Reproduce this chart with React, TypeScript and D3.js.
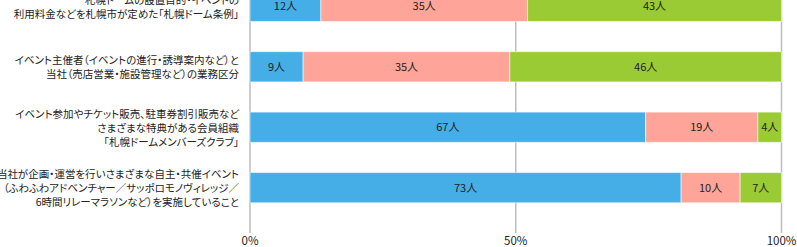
import React from "react";
import * as d3 from "d3";

const categories: string[][] = [
  ["札幌ドームの設置目的・イベントの", "利用料金などを札幌市が定めた「札幌ドーム条例」"],
  ["イベント主催者（イベントの進行・誘導案内など）と", "当社（売店営業・施設管理など）の業務区分"],
  ["イベント参加やチケット販売、駐車券割引販売など", "さまざまな特典がある会員組織", "「札幌ドームメンバーズクラブ」"],
  ["当社が企画・運営を行いさまざまな自主・共催イベント", "（ふわふわアドベンチャー／サッポロモノヴィレッジ／", "6時間リレーマラソンなど）を実施していること"],
];
const seriesA = [12, 9, 67, 73];
const seriesB = [35, 35, 19, 10];
const seriesC = [43, 46, 4, 7];
const tickValues = [0, 0.5, 1];
const tickLabels = ["0%", "50%", "100%"];
const colors = ["#45AEE6", "#FFA498", "#9BCB34"];
const unit = "人";

const W = 797;
const H = 247;
const FONT = "'Noto Sans CJK JP', 'Noto Sans', sans-serif";

export default function App() {
  const x = d3.scaleLinear().domain([0, 1]).range([250, 781.5]);
  const y = d3
    .scaleBand<number>()
    .domain(d3.range(categories.length))
    .range([-39, 233])
    .padding(0.5);
  const series = [seriesA, seriesB, seriesC];
  const rows = categories.map((_, i) => {
    const vals = series.map((s) => s[i]);
    const total = d3.sum(vals);
    let acc = 0;
    return vals.map((v, k) => {
      const x0 = acc / total;
      acc += v;
      return { v, k, x0, x1: acc / total };
    });
  });
  const bw = y.bandwidth();
  return (
    <svg
      width={W}
      height={H}
      style={{ position: "absolute", left: 0, top: 0, background: "#fff" }}
      fontFamily={FONT}
    >
      {tickValues.map((t, i) => (
        <g key={i}>
          <line x1={x(t)} x2={x(t)} y1={0} y2={233} stroke="#bdbdbd" strokeWidth={1.5} />
          <text x={x(t)} y={244.5} textAnchor="middle" fontSize={11.5} fill="#222">
            {tickLabels[i]}
          </text>
        </g>
      ))}
      {rows.map((segs, i) => (
        <g key={i}>
          {segs.map((s) => (
            <g key={s.k}>
              <rect
                x={x(s.x0)}
                y={y(i)!}
                width={x(s.x1) - x(s.x0)}
                height={bw}
                fill={colors[s.k]}
                stroke="rgba(255,255,255,0.55)"
                strokeWidth={1}
              />
              <text
                x={(x(s.x0) + x(s.x1)) / 2}
                y={y(i)! + bw / 2 + 4}
                textAnchor="middle"
                fontSize={11}
                fill="#222"
              >
                {s.v + unit}
              </text>
            </g>
          ))}
        </g>
      ))}
      {categories.map((lines, i) => {
        const cy = y(i)! + bw / 2 + 1;
        const lh = 14;
        return (
          <text key={i} textAnchor="end" fontSize={10.5} fill="#222" style={{ fontFeatureSettings: "'palt'" }}>
            {lines.map((ln, j) => (
              <tspan key={j} x={239} y={cy + (j - (lines.length - 1) / 2) * lh + 3.7}>
                {ln}
              </tspan>
            ))}
          </text>
        );
      })}
    </svg>
  );
}
